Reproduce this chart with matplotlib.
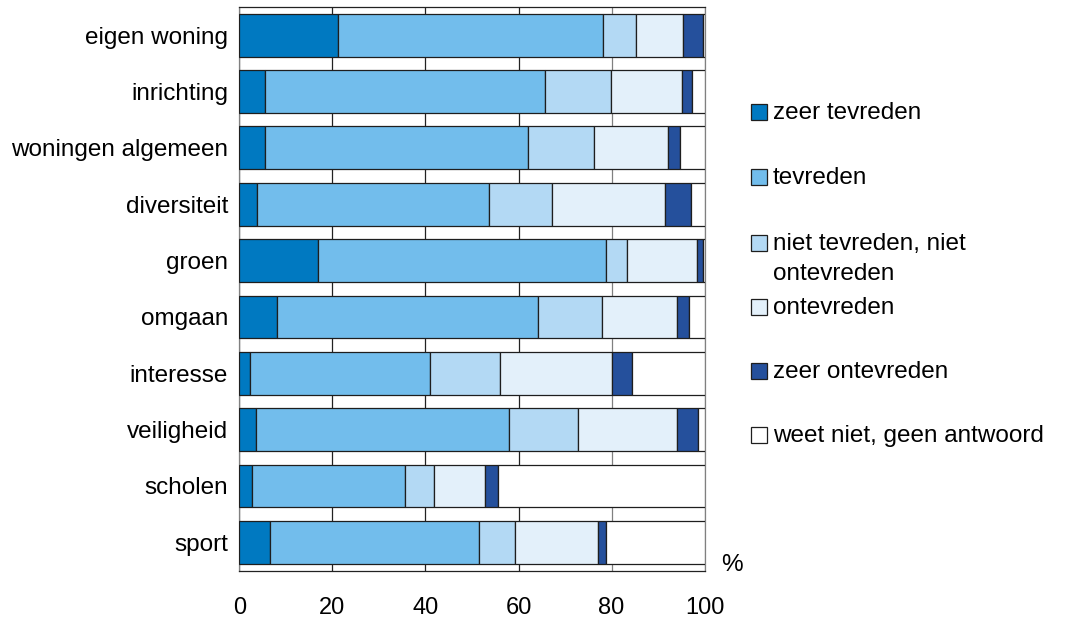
import matplotlib
matplotlib.use("Agg")
import matplotlib.pyplot as plt
from matplotlib.patches import Rectangle
import numpy as np

plt.rcParams['font.family'] = ['Liberation Sans', 'DejaVu Sans']

categories = ["eigen woning", "inrichting", "woningen algemeen", "diversiteit", "groen",
              "omgaan", "interesse", "veiligheid", "scholen", "sport"]

series_names = ["zeer tevreden", "tevreden", "niet tevreden, niet\nontevreden",
                "ontevreden", "zeer ontevreden", "weet niet, geen antwoord"]

zeer_tevreden = [21.3, 5.5, 5.5, 3.7, 17.0, 8.0, 2.3, 3.5, 2.7, 6.6]
tevreden = [56.9, 60.1, 56.5, 50.0, 61.7, 56.2, 38.7, 54.4, 32.8, 44.8]
neutraal = [7.1, 14.2, 14.2, 13.4, 4.5, 13.8, 15.0, 14.8, 6.3, 7.8]
ontevreden = [10.1, 15.4, 15.9, 24.3, 15.2, 16.0, 24.0, 21.3, 11.1, 17.8]
zeer_ontevreden = [4.2, 2.1, 2.6, 5.6, 1.3, 2.6, 4.4, 4.5, 2.6, 1.8]
weet_niet = [0.4, 2.7, 5.3, 3.0, 0.3, 3.4, 15.6, 1.5, 44.5, 21.2]

x_ticks = [0, 20, 40, 60, 80, 100]

colors = ["#0079c1", "#72bdec", "#b3d9f4", "#e3f0fa", "#25509c", "#ffffff"]
edge = "#1e1e1e"

fig = plt.figure(figsize=(10.67, 6.2), dpi=100)
W, H = 1067, 620
ax = fig.add_axes([239.3 / W, 1 - 570.5 / H, 465.4 / W, 563.5 / H])

series = [zeer_tevreden, tevreden, neutraal, ontevreden, zeer_ontevreden, weet_niet]
y = np.arange(len(categories))
left = np.zeros(len(categories))
for vals, col in zip(series, colors):
    vals = np.array(vals)
    ax.barh(y, vals, left=left, height=0.76, color=col, edgecolor=edge,
            linewidth=0.9, zorder=3)
    left += vals

ax.set_xlim(0, 100)
ax.set_ylim(len(categories) - 0.5, -0.5)
ax.set_yticks(y)
ax.set_yticklabels(categories, fontsize=17.5)
ax.set_xticks(x_ticks)
ax.set_xticklabels([str(t) for t in x_ticks], fontsize=17)
ax.tick_params(axis='x', length=0, pad=19)
ax.tick_params(axis='y', length=0, pad=8)

ax.set_axisbelow(True)
ax.xaxis.grid(True, color="#222222", linewidth=0.9)
for t, gl in zip(x_ticks, ax.get_xgridlines()):
    if t >= 80:
        gl.set_color("#808080")

for side in ("left", "right"):
    ax.spines[side].set_color("#808080")
for side in ("top", "bottom"):
    ax.spines[side].set_color("#222222")
for s in ax.spines.values():
    s.set_linewidth(0.9)

fig.text(732 / W, 1 - 565 / H, "%", fontsize=17.5, ha="center", va="center")

# legend on the right
legend_y = [112, 177, 243, 307, 371, 435]
for name, col, yc in zip(series_names, colors, legend_y):
    fig.patches.append(Rectangle((751 / W, 1 - (yc + 8) / H), 16 / W, 16 / H,
                                 facecolor=col, edgecolor=edge, linewidth=0.9,
                                 transform=fig.transFigure, figure=fig))
    fig.text(773 / W, 1 - (yc - 10) / H, name, fontsize=17.5, ha="left", va="top",
             linespacing=1.45)

fig.savefig("out.png", dpi=100)
